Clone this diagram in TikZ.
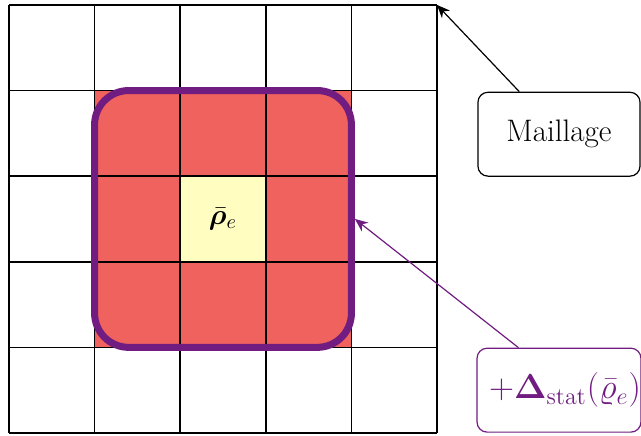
\documentclass[tikz,border=0pt]{standalone}
\usepackage{amsmath,amssymb,bm}
\usetikzlibrary{arrows.meta,positioning}
\definecolor{rouge}{RGB}{240,98,94}
\definecolor{jaune}{RGB}{255,253,192}
\definecolor{violet}{RGB}{112,28,128}

\begin{document}
\begin{tikzpicture}[x=1.5cm,y=1.5cm,
    boite/.style={draw,semithick,rounded corners=5pt,minimum width=2.84cm,minimum height=1.47cm,font=\fontsize{15.5}{18}\selectfont},
    fleche/.style={-{Stealth[length=6.5pt,width=5.5pt]},semithick}]
    \useasboundingbox (-0.105,-0.035) rectangle (7.383,5.058);
    \fill[rouge] (1,1) rectangle (4,4);
    \fill[jaune] (2,2) rectangle (3,3);
    \draw[thick,step=1.5cm] (0,0) grid (5,5);
    \node[draw=violet,line width=3.5pt,rounded corners=17pt,minimum size=4.5cm,inner sep=0pt] (zone) at (2.5,2.5) {};
    \node (rho) at (2.5,2.5) {\Large $\bar{\bm\rho}_e$};
    \coordinate (coin) at (5,5);
    \node[boite] (maillage) at (6.425,3.49) {Maillage};
    \node[boite,draw=violet,text=violet,inner xsep=0pt,font=\fontsize{16.5}{19}\selectfont] (delta) at (6.425,0.5) {\kern6pt$+\bm\Delta_{\mathrm{stat}}(\bar{\varrho}_e)$};
    \draw[fleche] ([xshift=0.735cm]maillage.north west) -- (coin);
    \draw[fleche,violet] ([xshift=0.735cm]delta.north west) -- (zone.east);
\end{tikzpicture}
\end{document}
